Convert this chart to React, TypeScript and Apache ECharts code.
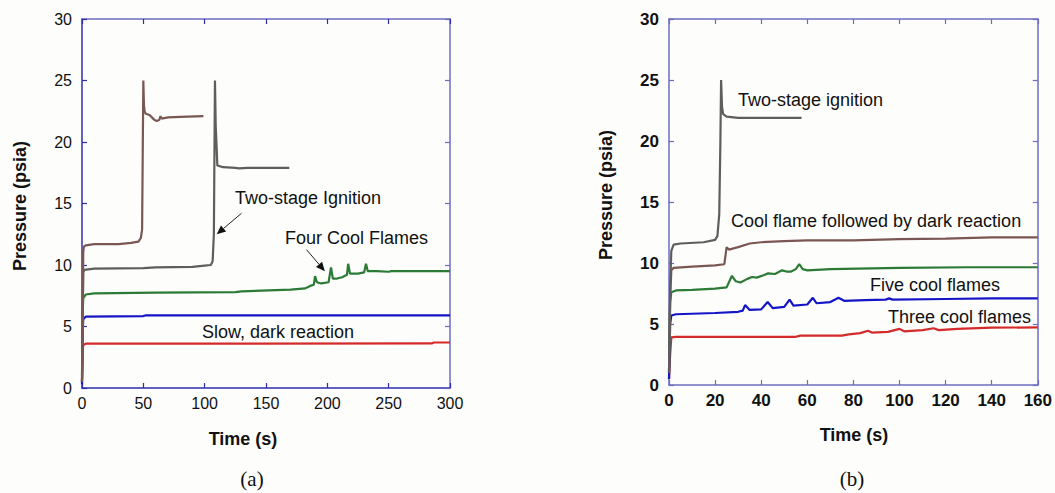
import React, { useEffect, useRef } from "react";
import * as echarts from "echarts";

// ---------- Panel (a): time (s) vs pressure (psia) ----------
const aBrown: number[][] = [
  [0, 0.5], [0.5, 4], [1, 11.0], [1.5, 11.5], [3, 11.6], [10, 11.7], [30, 11.7], [40, 11.8], [46, 11.9],
  [48, 12.2], [49, 12.9], [50, 25.0], [50.5, 23.0], [51, 22.5], [52, 22.3], [55, 22.2], [57, 22.0],
  [59, 21.8], [61, 21.7], [63, 21.8], [64, 22.1], [65, 21.9], [70, 22.0], [80, 22.05], [99, 22.1],
];
const aGray: number[][] = [
  [0, 0.5], [0.5, 5], [1, 9.4], [2, 9.6], [10, 9.7], [50, 9.75], [60, 9.8], [90, 9.85], [100, 9.95],
  [105, 10.0], [106.5, 10.3], [107.5, 12.5], [108.4, 25.0], [109, 21.3], [109.8, 19.5], [110.3, 18.1],
  [115, 17.95], [125, 17.9], [128, 17.85], [135, 17.9], [169, 17.9],
];
const aGreen: number[][] = [
  [0, 1], [0.5, 6], [1, 7.3], [3, 7.6], [10, 7.7], [60, 7.75], [125, 7.8], [130, 7.85], [170, 8.0],
  [182, 8.1], [186, 8.3], [189, 8.4], [190, 9.1], [191.5, 8.6], [195, 8.5], [201, 8.6], [203, 9.8],
  [204.5, 8.9], [208, 8.9], [212, 9.0], [216, 9.2], [217, 10.1], [218.5, 9.3], [225, 9.3], [230, 9.4],
  [231.5, 10.1], [233, 9.5], [240, 9.5], [250, 9.45], [252, 9.5], [300, 9.5],
];
const aBlue: number[][] = [
  [0, 0.3], [0.5, 4.3], [1, 5.6], [3, 5.8], [50, 5.85], [52, 5.9], [300, 5.9],
];
const aRed: number[][] = [
  [0, 0.5], [0.5, 3], [1, 3.5], [3, 3.6], [285, 3.62], [287, 3.7], [300, 3.7],
];

// ---------- Panel (b) ----------
const bGray: number[][] = [
  [0, 1], [0.5, 8], [1, 11.0], [2, 11.5], [5, 11.6], [15, 11.7], [20, 11.9], [21, 12.2], [21.8, 14],
  [22.3, 20], [22.6, 25], [23, 22.8], [23.5, 22.2], [25, 22.0], [30, 21.9], [57.5, 21.9],
];
const bBrown: number[][] = [
  [0, 1], [0.5, 7], [1, 9.4], [2, 9.6], [10, 9.7], [20, 9.8], [24, 9.9], [25, 11.3], [26, 11.1],
  [30, 11.3], [35, 11.6], [40, 11.7], [50, 11.8], [60, 11.85], [80, 11.85], [100, 11.95], [120, 12.0],
  [140, 12.1], [160, 12.1],
];
const bGreen: number[][] = [
  [0, 1], [0.5, 6.8], [1, 7.6], [3, 7.75], [10, 7.8], [20, 7.9], [25, 8.0], [27.3, 8.95], [29, 8.5],
  [31, 8.4], [34, 8.7], [36, 8.85], [38, 8.8], [41, 9.0], [43, 9.15], [46, 9.1], [49, 9.4], [51, 9.3],
  [53, 9.3], [55, 9.5], [56.5, 9.9], [58, 9.5], [60, 9.4], [70, 9.5], [100, 9.6], [130, 9.65], [160, 9.65],
];
const bBlue: number[][] = [
  [0, 0.5], [0.5, 5], [1, 5.7], [3, 5.8], [20, 5.9], [30, 6.0], [32, 6.1], [33, 6.55], [35, 6.15],
  [40, 6.2], [42.8, 6.8], [45, 6.3], [50, 6.4], [52.3, 7.0], [54, 6.5], [60, 6.6], [62.4, 7.15],
  [64, 6.7], [70, 6.8], [73.5, 7.15], [76, 6.9], [85, 6.95], [94, 7.0], [95.5, 7.1], [97, 7.0],
  [120, 7.05], [140, 7.1], [160, 7.1],
];
const bRed: number[][] = [
  [0, 0.5], [0.5, 2.5], [1, 3.9], [3, 3.95], [55, 3.95], [57, 4.05], [75, 4.05], [78, 4.15], [83, 4.25],
  [86.3, 4.45], [88, 4.3], [95, 4.35], [100, 4.6], [102, 4.4], [110, 4.5], [114.8, 4.65], [117, 4.5],
  [125, 4.6], [140, 4.7], [160, 4.72],
];

// annotation arrows (data coords of panel a): [from, to]
const arrowIgnition = [[130, 14.2], [109.8, 12.5]];
const arrowCool = [[183, 11.25], [198, 9.5]];

const C_GRAY = "#5e5e5e";
const C_BROWN = "#7a5752";
const C_GREEN = "#2b7a35";
const C_BLUE = "#1515c8";
const C_RED = "#d42a2a";
const AX_DARK = "#2e2eae";
const AX_LIGHT = "#6c6cc0";

const FONT = "'Liberation Sans', Arial, sans-serif";

function line(name: string, data: number[][], color: string, idx: number) {
  return {
    name,
    type: "line",
    data,
    xAxisIndex: idx * 2,
    yAxisIndex: idx * 2,
    symbol: "none",
    lineStyle: { color, width: 2.2 },
    z: 3,
  };
}

function txt(x: number, y: number, text: string, font: string, align = "left", rotation = 0) {
  return {
    type: "text", x, y, rotation,
    style: { text, font, fill: "#111", textAlign: align, textVerticalAlign: "middle" },
  };
}

export default function App() {
  const ref = useRef<HTMLDivElement>(null);
  useEffect(() => {
    if (!ref.current) return;
    const chart = echarts.init(ref.current, null, { renderer: "svg" });

    const tickIn = (color: string) => ({ show: true, inside: true, length: 5, lineStyle: { color, width: 1.2 } });
    const axLine = (color: string) => ({ show: true, onZero: false, lineStyle: { color, width: 1.5 } });

    const aLabel = { fontFamily: FONT, fontSize: 16, color: "#111", fontWeight: "normal" as const };
    const bLabel = { fontFamily: FONT, fontSize: 17, color: "#111", fontWeight: "bold" as const };

    const option: any = {
      animation: false,
      backgroundColor: "#fdfdfb",
      grid: [
        { left: 82, top: 19, width: 368, height: 369 },
        { left: 669, top: 19, width: 370, height: 366 },
      ],
      xAxis: [
        {
          type: "value", gridIndex: 0, min: 0, max: 300, interval: 50, position: "bottom",
          axisLine: axLine(AX_DARK), axisTick: tickIn(AX_DARK), splitLine: { show: false },
          axisLabel: { ...aLabel, margin: 7 },
        },
        {
          type: "value", gridIndex: 0, min: 0, max: 300, interval: 50, position: "top",
          axisLine: axLine(AX_LIGHT), axisTick: tickIn(AX_DARK), splitLine: { show: false },
          axisLabel: { show: false },
        },
        {
          type: "value", gridIndex: 1, min: 0, max: 160, interval: 20, position: "bottom",
          axisLine: axLine(AX_LIGHT), axisTick: tickIn(AX_LIGHT), splitLine: { show: false },
          axisLabel: { ...bLabel, margin: 7 },
        },
        {
          type: "value", gridIndex: 1, min: 0, max: 160, interval: 20, position: "top",
          axisLine: axLine(AX_LIGHT), axisTick: tickIn(AX_LIGHT), splitLine: { show: false },
          axisLabel: { show: false },
        },
      ],
      yAxis: [
        {
          type: "value", gridIndex: 0, min: 0, max: 30, interval: 5, position: "left",
          axisLine: axLine(AX_DARK), axisTick: tickIn(AX_DARK), splitLine: { show: false },
          axisLabel: { ...aLabel, margin: 10 },
        },
        {
          type: "value", gridIndex: 0, min: 0, max: 30, interval: 5, position: "right",
          axisLine: axLine(AX_LIGHT), axisTick: tickIn(AX_LIGHT), splitLine: { show: false },
          axisLabel: { show: false },
        },
        {
          type: "value", gridIndex: 1, min: 0, max: 30, interval: 5, position: "left",
          axisLine: axLine(AX_LIGHT), axisTick: tickIn(AX_LIGHT), splitLine: { show: false },
          axisLabel: { ...bLabel, margin: 10 },
        },
        {
          type: "value", gridIndex: 1, min: 0, max: 30, interval: 5, position: "right",
          axisLine: axLine(AX_LIGHT), axisTick: tickIn(AX_LIGHT), splitLine: { show: false },
          axisLabel: { show: false },
        },
      ],
      series: [
        line("a-red", aRed, C_RED, 0),
        line("a-blue", aBlue, C_BLUE, 0),
        line("a-green", aGreen, C_GREEN, 0),
        line("a-gray", aGray, C_GRAY, 0),
        line("a-brown", aBrown, C_BROWN, 0),
        line("b-red", bRed, C_RED, 1),
        line("b-blue", bBlue, C_BLUE, 1),
        line("b-green", bGreen, C_GREEN, 1),
        line("b-brown", bBrown, C_BROWN, 1),
        line("b-gray", bGray, C_GRAY, 1),
      ],
    };

    chart.setOption(option);

    // arrows, placed through the panel (a) scales
    const arrowEls: any[] = [];
    [arrowIgnition, arrowCool].forEach((a) => {
      const p0 = chart.convertToPixel({ xAxisIndex: 0, yAxisIndex: 0 }, a[0]) as number[];
      const p1 = chart.convertToPixel({ xAxisIndex: 0, yAxisIndex: 0 }, a[1]) as number[];
      const dx = p1[0] - p0[0];
      const dy = p1[1] - p0[1];
      const len = Math.hypot(dx, dy);
      const ux = dx / len, uy = dy / len;
      const hl = 9, hw = 4;
      const bx = p1[0] - ux * hl, by = p1[1] - uy * hl;
      arrowEls.push({
        type: "line",
        shape: { x1: p0[0], y1: p0[1], x2: bx, y2: by },
        style: { stroke: "#222", lineWidth: 1 },
        z: 10,
      });
      arrowEls.push({
        type: "polygon",
        shape: { points: [[p1[0], p1[1]], [bx - uy * hw, by + ux * hw], [bx + uy * hw, by - ux * hw]] },
        style: { fill: "#111" },
        z: 10,
      });
    });

    const bold18 = `bold 18px ${FONT}`;
    const ann = `18px ${FONT}`;
    const serif = `21px 'Liberation Serif', 'Times New Roman', serif`;

    chart.setOption({
      graphic: [
        txt(20, 206, "Pressure (psia)", bold18, "center", Math.PI / 2),
        txt(606, 195, "Pressure (psia)", bold18, "center", Math.PI / 2),
        txt(243, 439, "Time (s)", bold18, "center"),
        txt(854, 435, "Time (s)", bold18, "center"),
        txt(252, 479, "(a)", serif, "center"),
        txt(852, 479, "(b)", serif, "center"),
        txt(235, 198, "Two-stage Ignition", ann),
        txt(285, 238, "Four Cool Flames", ann),
        txt(202, 332, "Slow, dark reaction", ann),
        txt(738, 100, "Two-stage ignition", ann),
        txt(731, 221, "Cool flame followed by dark reaction", ann),
        txt(870, 285, "Five cool flames", ann),
        txt(888, 317, "Three cool flames", ann),
        ...arrowEls,
      ],
    });

    return () => chart.dispose();
  }, []);

  return (
    <div
      ref={ref}
      style={{ position: "fixed", left: 0, top: 0, width: 1055, height: 493 }}
    />
  );
}
